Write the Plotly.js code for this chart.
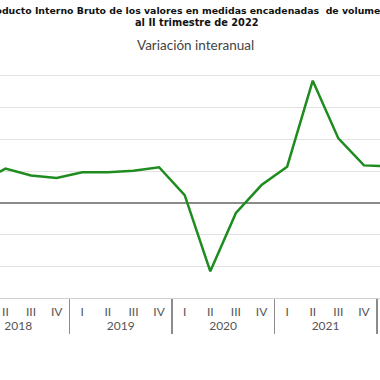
<!DOCTYPE html>
<html>
<head>
<meta charset="utf-8">
<script src="https://cdn.plot.ly/plotly-3.0.1.min.js"></script>
<style>
  html, body { margin: 0; padding: 0; width: 380px; height: 380px; overflow: hidden; background: #fff; }
  #wrap { position: relative; width: 380px; height: 380px; overflow: hidden; }
  #chart { position: absolute; left: -90px; top: 0; width: 560px; height: 380px; }
</style>
</head>
<body>
<div id="wrap"><div id="chart"></div></div>
<script>
// Data (year-on-year % change, chained volume GDP)
const years = ['2018','2018','2018','2018','2019','2019','2019','2019','2020','2020','2020','2020','2021','2021','2021','2021','2022','2022'];
const quarters = ['I','II','III','IV','I','II','III','IV','I','II','III','IV','I','II','III','IV','I','II'];
const variacion = [3.1, 5.4, 4.3, 3.9, 4.8, 4.8, 5.05, 5.6, 1.2, -10.8, -1.6, 2.8, 5.7, 19.25, 10.15, 5.9, 5.75, 4.6];

const titleLine1 = 'Producto Interno Bruto de los valores en medidas encadenadas&nbsp; de volumen';
const titleLine2 = 'al II trimestre de 2022';
const subtitle = 'Variación interanual';

// geometry helpers (window pixels -> paper coords)
const L = 90, ML = 57, PW = 461.5;
const Y0 = -15, Y1 = 20.3, UNIT = 6.333;      // px per 1 %
const PH = (Y1 - Y0) * UNIT, MB = 380 - 298, MT = 380 - MB - PH;
const px = (wx) => (wx + L - ML) / PW;
const py = (wy) => (MT + PH - wy) / PH;

const font = 'Lato, "Open Sans", sans-serif';
const titleFont = '"DejaVu Sans", Verdana, sans-serif';

const trace = {
  type: 'scatter',
  mode: 'lines',
  x: [years, quarters],
  y: variacion,
  line: { color: '#1e8c1e', width: 2.5 },
  hoverinfo: 'skip'
};

const layout = {
  width: 560,
  height: 380,
  margin: { l: ML, r: 560 - ML - PW, t: MT, b: MB, pad: 0 },
  paper_bgcolor: '#ffffff',
  plot_bgcolor: '#ffffff',
  showlegend: false,
  font: { family: font, color: '#555' },
  xaxis: {
    type: 'multicategory',
    range: [-0.5, 17.5],
    showgrid: false,
    showline: true,
    linecolor: '#d0d0d0',
    linewidth: 1,
    ticks: '',
    ticklabelstandoff: 3,
    showdividers: true,
    dividercolor: '#8c8c8c',
    dividerwidth: 1.5,
    tickfont: { family: font, size: 12, color: '#555' }
  },
  yaxis: {
    range: [Y0, Y1],
    dtick: 5,
    showgrid: true,
    gridcolor: '#e2e2e2',
    gridwidth: 1,
    zeroline: true,
    zerolinecolor: '#8a8a8a',
    zerolinewidth: 1.5,
    showline: false,
    ticks: '',
    tickfont: { family: font, size: 10, color: '#555' }
  },
  annotations: [
    { xref: 'paper', yref: 'paper', x: px(-17.5), y: py(11.5), xanchor: 'left', yanchor: 'middle',
      text: '<b>' + titleLine1 + '</b>', showarrow: false,
      font: { family: titleFont, size: 9.35, color: '#111' } },
    { xref: 'paper', yref: 'paper', x: px(197), y: py(23.5), xanchor: 'center', yanchor: 'middle',
      text: '<b>' + titleLine2 + '</b>', showarrow: false,
      font: { family: titleFont, size: 9.8, color: '#111' } },
    { xref: 'paper', yref: 'paper', x: px(196), y: py(46), xanchor: 'center', yanchor: 'middle',
      text: subtitle, showarrow: false,
      font: { family: font, size: 13.5, color: '#444' } }
  ]
};

Plotly.newPlot('chart', [trace], layout, { displayModeBar: false, staticPlot: true });
</script>
</body>
</html>
